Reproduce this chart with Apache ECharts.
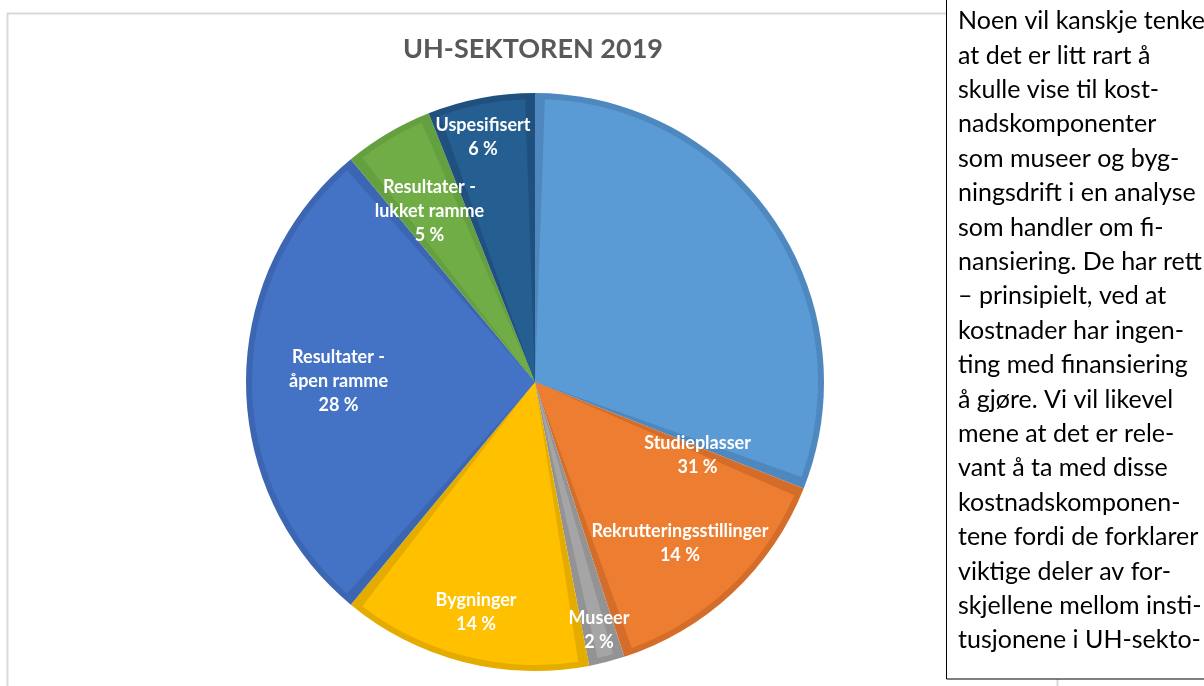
<!DOCTYPE html>
<html>
<head>
<meta charset="utf-8">
<script src="https://cdn.jsdelivr.net/npm/echarts@6/dist/echarts.min.js"></script>
<style>
  html, body { margin: 0; padding: 0; background: #fff; }
  #chart { width: 1204px; height: 686px; }
</style>
</head>
<body>
<div id="chart"></div>
<script>
// ---- data ----
var titleText = 'UH-SEKTOREN 2019';
var categories = ['Studieplasser', 'Rekrutteringsstillinger', 'Museer', 'Bygninger',
                  'Resultater - åpen ramme', 'Resultater - lukket ramme', 'Uspesifisert'];
var shares = [31, 14, 2, 14, 28, 5, 6];
var fillColors = ['#5B9BD5', '#ED7D31', '#A5A5A5', '#FFC000', '#4472C4', '#70AD47', '#255E91'];
var edgeColors = ['#4F88BE', '#D46D29', '#939393', '#E5AC00', '#3C66B1', '#64A040', '#20507E'];
var noteLines = [
  'Noen vil kanskje tenke',
  'at det er litt rart å',
  'skulle vise til kost-',
  'nadskomponenter',
  'som museer og byg-',
  'ningsdrift i en analyse',
  'som handler om fi-',
  'nansiering. De har rett',
  '– prinsipielt, ved at',
  'kostnader har ingen-',
  'ting med finansiering',
  'å gjøre. Vi vil likevel',
  'mene at det er rele-',
  'vant å ta med disse',
  'kostnadskomponen-',
  'tene fordi de forklarer',
  'viktige deler av for-',
  'skjellene mellom insti-',
  'tusjonene i UH-sekto-'
];
// label nudges (px) relative to the default inside position
var labelShift = [[43, 154], [46, 56], [28, 108], [-23, 90], [-52, -1], [-32, -46], [-25, -103]];

var chart = echarts.init(document.getElementById('chart'));
function makeData(colors) {
  return categories.map(function (n, i) {
    return { name: n, value: shares[i], itemStyle: { color: colors[i] } };
  });
}

chart.setOption({
  backgroundColor: '#ffffff',
  animation: false,
  graphic: [
    {
      type: 'rect', z: 0, silent: true,
      shape: { x: 7.5, y: 13.5, width: 1050, height: 700 },
      style: { fill: '#ffffff', stroke: '#D9D9D9', lineWidth: 2 }
    },
    {
      type: 'text', z: 10, silent: true,
      x: 533, y: 49,
      style: {
        text: titleText, fill: '#595959',
        font: 'bold 27px Lato, sans-serif',
        align: 'center', verticalAlign: 'middle'
      }
    },
    {
      type: 'rect', z: 20, silent: true,
      shape: { x: 946.5, y: -5, width: 300, height: 684 },
      style: { fill: '#ffffff', stroke: '#000000', lineWidth: 1 }
    },
    {
      type: 'text', z: 21, silent: true,
      x: 958, y: 4,
      style: {
        text: noteLines.join('\n'), fill: '#000000',
        font: '25px Lato, sans-serif',
        lineHeight: 34.4,
        align: 'left', verticalAlign: 'top'
      }
    }
  ],
  series: [{
    type: 'pie',
    z: 4,
    center: [535, 382],
    radius: [0, 289],
    startAngle: 90,
    clockwise: true,
    silent: true,
    label: { show: false },
    labelLine: { show: false },
    emphasis: { disabled: true },
    data: makeData(edgeColors)
  }, {
    type: 'pie',
    z: 5,
    center: [535, 382],
    radius: [0, 283],
    startAngle: 90,
    clockwise: true,
    padAngle: 4,
    avoidLabelOverlap: false,
    label: {
      show: true,
      position: 'inside',
      color: '#ffffff',
      fontFamily: 'Lato, sans-serif',
      fontWeight: 'bold',
      fontSize: 18,
      lineHeight: 24,
      formatter: function (p) {
        return p.name.replace(' - ', ' -\n') + '\n' + p.value + ' %';
      }
    },
    labelLine: { show: false },
    labelLayout: function (p) {
      var s = labelShift[p.dataIndex];
      return { dx: s[0], dy: s[1] };
    },
    emphasis: { disabled: true },
    data: makeData(fillColors)
  }]
});
</script>
</body>
</html>
